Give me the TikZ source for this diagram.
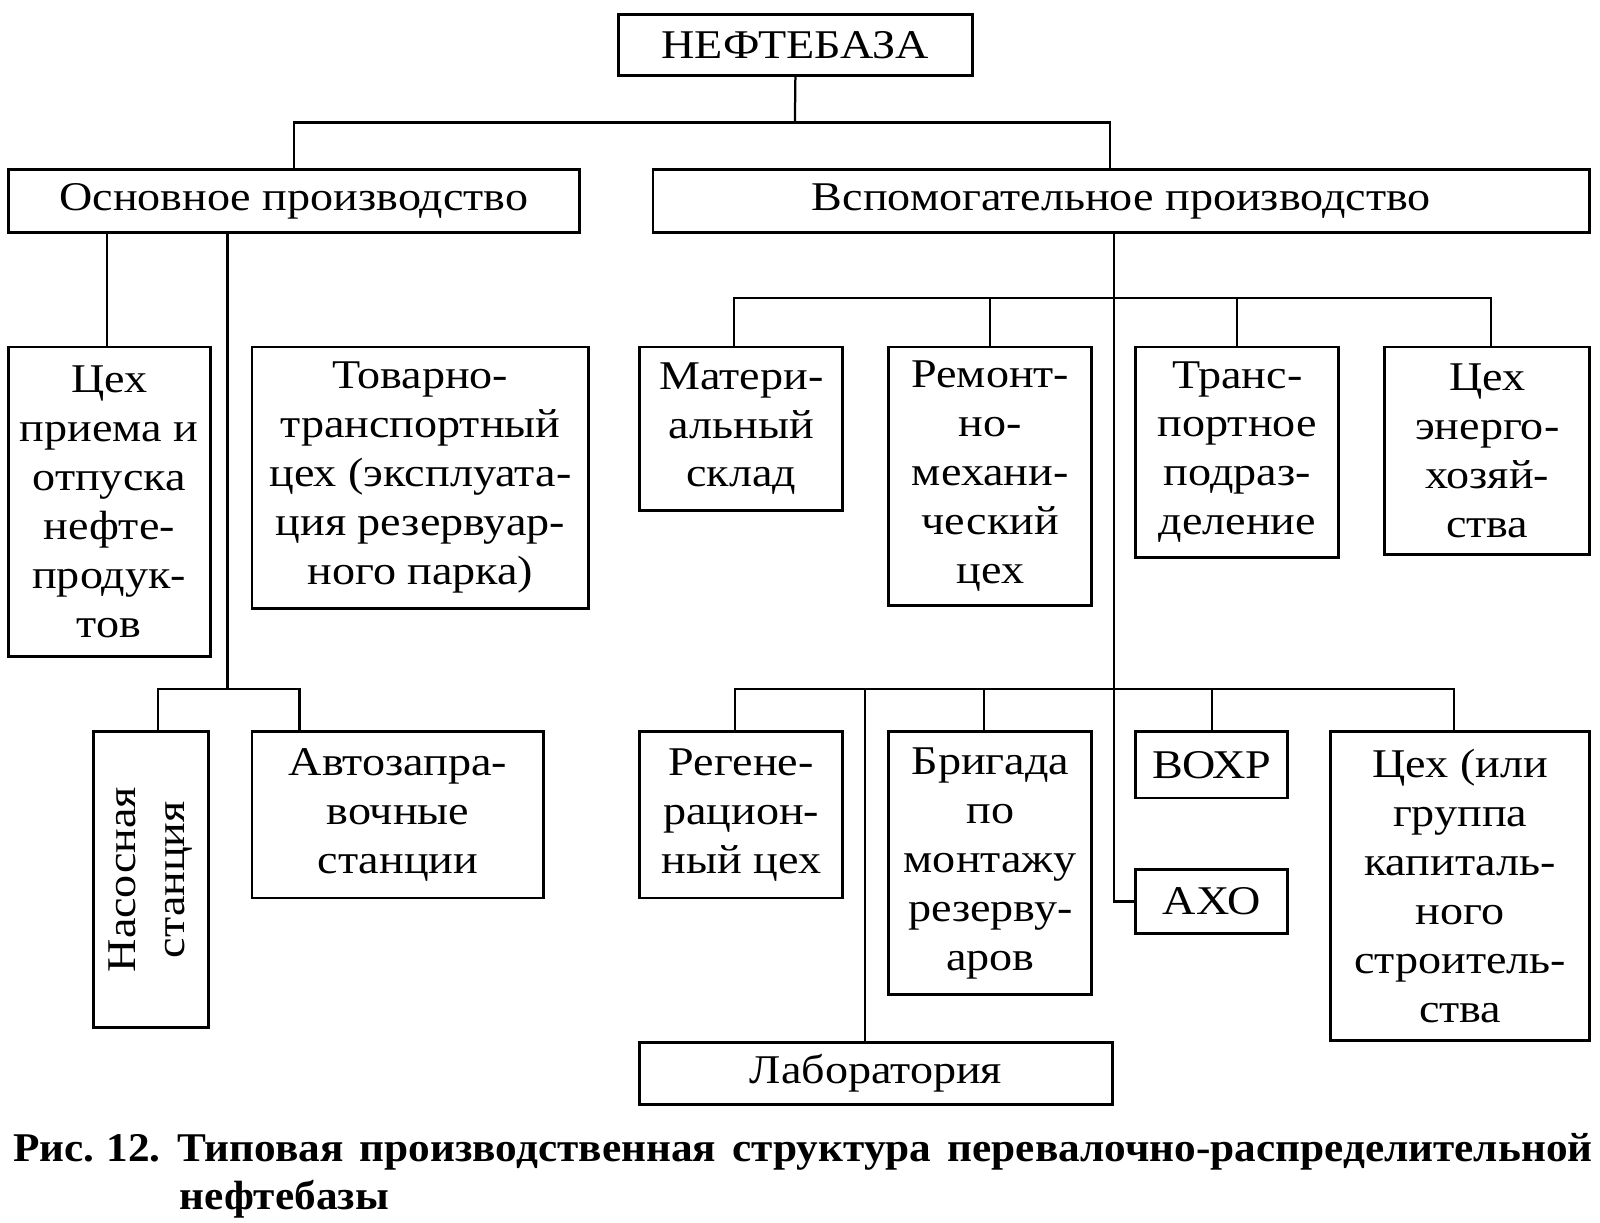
\documentclass[tikz,border=0pt]{standalone}
\usepackage{fontspec}
\setmainfont{Liberation Serif}[FakeStretch=1.13]
\newfontfamily\capfont{Liberation Serif}[FakeStretch=1.06]
\begin{document}
\begin{tikzpicture}[x=0.25pt, y=-0.25pt,
        unit/.style={rectangle, draw, line width=0.7pt, inner sep=0pt, align=center, font=\fontsize{10}{12}\selectfont},
        caption/.style={anchor=base west, inner sep=0pt, font=\capfont\fontsize{10}{12}\selectfont\bfseries},
        link/.style={line width=0.55pt}
    ]
        \useasboundingbox (0,0) rectangle (1568,1198.5);

        \node[unit, minimum width=86.75pt, minimum height=15pt] (base) at (779.5,44) {НЕФТЕБАЗА};
        \node[unit, minimum width=140pt, minimum height=15.5pt] (osn) at (288,197) {Основное производство};
        \node[unit, minimum width=229.5pt, minimum height=15.5pt] (vsp) at (1099,197) {Вспомогательное производство};

        \node[unit, minimum width=49.5pt, minimum height=75.75pt] (priem) at (107,491.5) {Цех\\приема и\\отпуска\\нефте-\\продук-\\тов};
        \node[unit, minimum width=82.5pt, minimum height=64pt] (tovar) at (412,468) {Товарно-\\транспортный\\цех (эксплуата-\\ция резервуар-\\ного парка)};
        \node[unit, rotate=90, minimum width=72.5pt, minimum height=28pt] (nasos) at (148,862) {Насосная\\станция};
        \node[unit, minimum width=71.5pt, minimum height=40.75pt] (azs) at (390,798.5) {Автозапра-\\вочные\\станции};

        \node[unit, minimum width=49.75pt, minimum height=40pt] (sklad) at (726.5,420) {Матери-\\альный\\склад};
        \node[unit, minimum width=49.75pt, minimum height=63.25pt] (remont) at (970.5,466.5) {Ремонт-\\но-\\механи-\\ческий\\цех};
        \node[unit, minimum width=49.75pt, minimum height=51.5pt] (transp) at (1212.5,443) {Транс-\\портное\\подраз-\\деление};
        \node[unit, minimum width=50.25pt, minimum height=50.75pt] (energo) at (1457.5,441.5) {Цех\\энерго-\\хозяй-\\ства};

        \node[unit, minimum width=49.75pt, minimum height=40.75pt] (regen) at (726.5,798.5) {Регене-\\рацион-\\ный цех};
        \node[unit, minimum width=49.75pt, minimum height=64.5pt] (brig) at (970.5,846) {Бригада\\по\\монтажу\\резерву-\\аров};
        \node[unit, minimum width=37.25pt, minimum height=16.25pt] (vohr) at (1187.5,749.5) {ВОХР};
        \node[unit, minimum width=37.25pt, minimum height=15.75pt] (aho) at (1187.5,883.5) {АХО};
        \node[unit, minimum width=63.5pt, minimum height=75.75pt] (kapstr) at (1431,868.5) {Цех (или\\группа\\капиталь-\\ного\\строитель-\\ства};
        \node[unit, minimum width=115.75pt, minimum height=15pt] (lab) at (858.5,1052) {Лаборатория};

        \node[caption] (cap1) at (12,1138)
            {\makebox[387pt][s]{Рис.\kern3pt12.\kern4pt Типовая производственная структура перевалочно-распределительной}};
        \node[caption] (cap2) at (175,1185) {нефтебазы};

        \coordinate (topbus) at (779,120);
        \coordinate (pumpbus) at (223,675);
        \coordinate (upbus) at (1092,292);
        \coordinate (lowbus) at (1092,675);
        \coordinate (labtap) at (848,675);

        \draw[link] (base.south) -- (topbus);
        \draw[link] (osn.north) |- (topbus) -| ([xshift=-2.75pt]vsp.north);

        \draw[link] ([xshift=-0.5pt]priem.north) -- ([xshift=-0.5pt]priem.north |- osn.south);
        \draw[link] (osn.south -| pumpbus) -- (pumpbus);
        \draw[link] ([xshift=1.75pt]nasos.east) |- (pumpbus) -| ([xshift=12pt]azs.north west);

        \draw[link] (vsp.south -| upbus) -- (aho.west -| upbus) -- (aho.west);
        \draw[link] ([xshift=-1.75pt]sklad.north) |- ([xshift=1pt]energo.north |- upbus) -- ([xshift=1pt]energo.north);
        \draw[link] (remont.north) -- (remont.north |- upbus);
        \draw[link] (transp.north) -- (transp.north |- upbus);

        \draw[link] ([xshift=-1.5pt]regen.north) |- ([xshift=-1.5pt]kapstr.north |- lowbus) -- ([xshift=-1.5pt]kapstr.north);
        \draw[link] ([xshift=-1.5pt]brig.north) -- ([xshift=-1.5pt]brig.north |- lowbus);
        \draw[link] (vohr.north) -- (vohr.north |- lowbus);
        \draw[link] (labtap) -- (lab.north -| labtap);
    \end{tikzpicture}
\end{document}
